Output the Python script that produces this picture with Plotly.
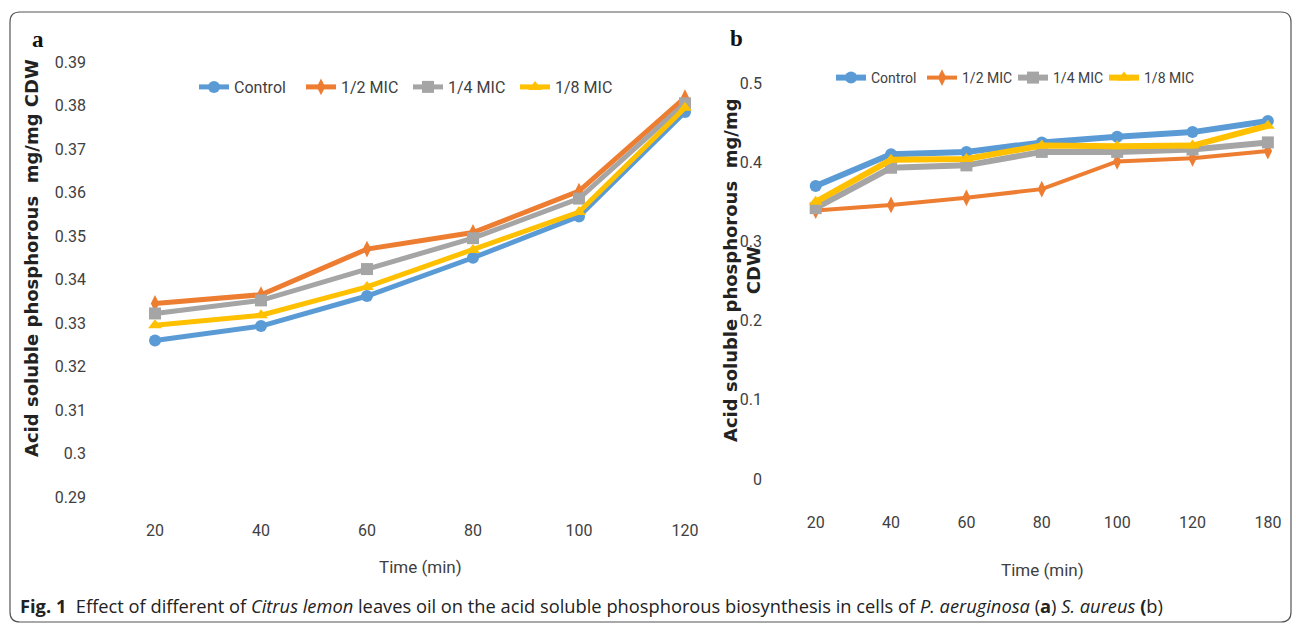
import plotly.graph_objects as go

W, H = 1296, 626

# ---------------- data ----------------
series_names = ["Control", "1/2 MIC", "1/4 MIC", "1/8 MIC"]

time_a = ["20", "40", "60", "80", "100", "120"]
a_control = [0.3260, 0.3293, 0.3362, 0.3450, 0.3545, 0.3785]
a_half = [0.3345, 0.3365, 0.3470, 0.3508, 0.3603, 0.3818]
a_quarter = [0.3322, 0.3352, 0.3424, 0.3495, 0.3586, 0.3805]
a_eighth = [0.3295, 0.3318, 0.3383, 0.3468, 0.3555, 0.3795]

time_b = ["20", "40", "60", "80", "100", "120", "180"]
b_control = [0.370, 0.410, 0.413, 0.425, 0.432, 0.438, 0.452]
b_half = [0.339, 0.346, 0.355, 0.366, 0.401, 0.405, 0.414]
b_quarter = [0.342, 0.393, 0.396, 0.413, 0.413, 0.416, 0.425]
b_eighth = [0.350, 0.403, 0.404, 0.421, 0.420, 0.421, 0.446]

yticks_a = [0.29, 0.30, 0.31, 0.32, 0.33, 0.34, 0.35, 0.36, 0.37, 0.38, 0.39]
yticktext_a = ["0.29", "0.3", "0.31", "0.32", "0.33", "0.34", "0.35", "0.36", "0.37", "0.38", "0.39"]
yticks_b = [0, 0.1, 0.2, 0.3, 0.4, 0.5]
yticktext_b = ["0", "0.1", "0.2", "0.3", "0.4", "0.5"]

y_title = "Acid soluble phosphorous\u00a0\u00a0mg/mg CDW"
y_title_b = "Acid soluble phosphorous\u00a0\u00a0mg/mg<br>CDW"
x_title = "Time (min)"
caption = ("<b>Fig. 1</b>\u00a0\u00a0Effect of different of <i>Citrus lemon</i> leaves oil on the acid soluble "
           "phosphorous biosynthesis in cells of <i>P. aeruginosa</i> (<b>a</b>) <i>S. aureus</i> <b>(</b>b)")

# ---------------- styles ----------------
colors = ["#5B9BD5", "#ED7D31", "#A5A5A5", "#FFC000"]
symbols = ["circle", "diamond-tall", "square", "triangle-up"]
NARROW = "Roboto, sans-serif"
TXT = "#404040"


def px(x):
    return x / W


def py(y):
    return 1 - y / H


fig = go.Figure()

a_vals = [a_control, a_half, a_quarter, a_eighth]
b_vals = [b_control, b_half, b_quarter, b_eighth]
a_widths = [5, 5, 5, 5]
b_widths = [6, 4, 6, 6]

for i, name in enumerate(series_names):
    fig.add_trace(go.Scatter(
        x=time_a, y=a_vals[i], name=name, mode="lines+markers",
        line=dict(color=colors[i], width=a_widths[i]),
        marker=dict(symbol=symbols[i], size=12, color=colors[i]),
        xaxis="x", yaxis="y", legend="legend", cliponaxis=False))

for i, name in enumerate(series_names):
    fig.add_trace(go.Scatter(
        x=time_b, y=b_vals[i], name=name, mode="lines+markers",
        line=dict(color=colors[i], width=b_widths[i]),
        marker=dict(symbol=symbols[i], size=12, color=colors[i]),
        xaxis="x2", yaxis="y2", legend="legend2", cliponaxis=False))

tickfont = dict(family=NARROW, size=16, color=TXT)
common = dict(showgrid=False, zeroline=False, showline=False, ticks="", automargin=False,
              tickfont=tickfont)

fig.update_layout(
    width=W, height=H,
    margin=dict(l=0, r=0, t=0, b=0, pad=0),
    paper_bgcolor="white", plot_bgcolor="white",
    showlegend=True,
    xaxis=dict(domain=[px(102), px(738)], type="category", range=[-0.5, 5.5],
               ticklabelstandoff=22, anchor="y", **common),
    yaxis=dict(domain=[py(497), py(62)], range=[0.29, 0.39],
               tickvals=yticks_a, ticktext=yticktext_a,
               ticklabelstandoff=15, anchor="x", **common),
    xaxis2=dict(domain=[px(778), px(1292)], type="category", range=[-0.5, 6.32],
                ticklabelstandoff=32, anchor="y2", **common),
    yaxis2=dict(domain=[py(479), py(83)], range=[0, 0.5],
                tickvals=yticks_b, ticktext=yticktext_b,
                ticklabelstandoff=15, anchor="x2", **common),
    legend=dict(orientation="h", x=px(194), y=py(87), xanchor="left", yanchor="middle",
                font=dict(family=NARROW, size=16, color=TXT), bgcolor="rgba(0,0,0,0)",
                itemwidth=30, tracegroupgap=0, entrywidth=62),
    legend2=dict(orientation="h", x=px(831), y=py(78), xanchor="left", yanchor="middle",
                 font=dict(family=NARROW, size=14, color=TXT), bgcolor="rgba(0,0,0,0)",
                 itemwidth=30, tracegroupgap=0, entrywidth=46),
)


def ann(text, x, y, font, xanchor="center", angle=0):
    return dict(text=text, x=px(x), y=py(y), xref="paper", yref="paper",
                xanchor=xanchor, yanchor="middle", textangle=angle,
                showarrow=False, font=font)


serif = dict(family="Liberation Serif, serif", size=23, color="#111")
ytf = dict(family="DejaVu Sans, Verdana, sans-serif", size=18, color="#222")
xtf = dict(family=NARROW, size=17, color=TXT)

annotations = [
    ann("<b>a</b>", 38, 40, serif),
    ann("<b>b</b>", 736, 38, serif),
    ann("<b>" + y_title + "</b>", 31, 258, ytf, angle=-90),
    ann("<b>" + y_title_b.replace("<br>", "</b><br><b>") + "</b>", 742, 270, ytf, angle=-90),
    ann(x_title, 420, 567, xtf),
    ann(x_title, 1042, 570, xtf),
    ann(caption, 18, 605, dict(family="Open Sans, Noto Sans, sans-serif", size=18.3, color="#222"),
        xanchor="left"),
]
fig.update_layout(annotations=annotations)

# rounded frame around the figure
x0, x1 = px(10), px(1291)
y0, y1 = py(622), py(12)
rx, ry = 10 / W, 10 / H
path = (f"M {x0+rx},{y1} L {x1-rx},{y1} Q {x1},{y1} {x1},{y1-ry} "
        f"L {x1},{y0+ry} Q {x1},{y0} {x1-rx},{y0} "
        f"L {x0+rx},{y0} Q {x0},{y0} {x0},{y0+ry} "
        f"L {x0},{y1-ry} Q {x0},{y1} {x0+rx},{y1} Z")
fig.add_shape(type="path", path=path, xref="paper", yref="paper",
              line=dict(color="#555555", width=1.2), fillcolor="rgba(0,0,0,0)", layer="below")

fig.write_html("out.html", config={"displayModeBar": False},
               post_script="document.body.style.margin='0';document.body.style.overflow='hidden';")
